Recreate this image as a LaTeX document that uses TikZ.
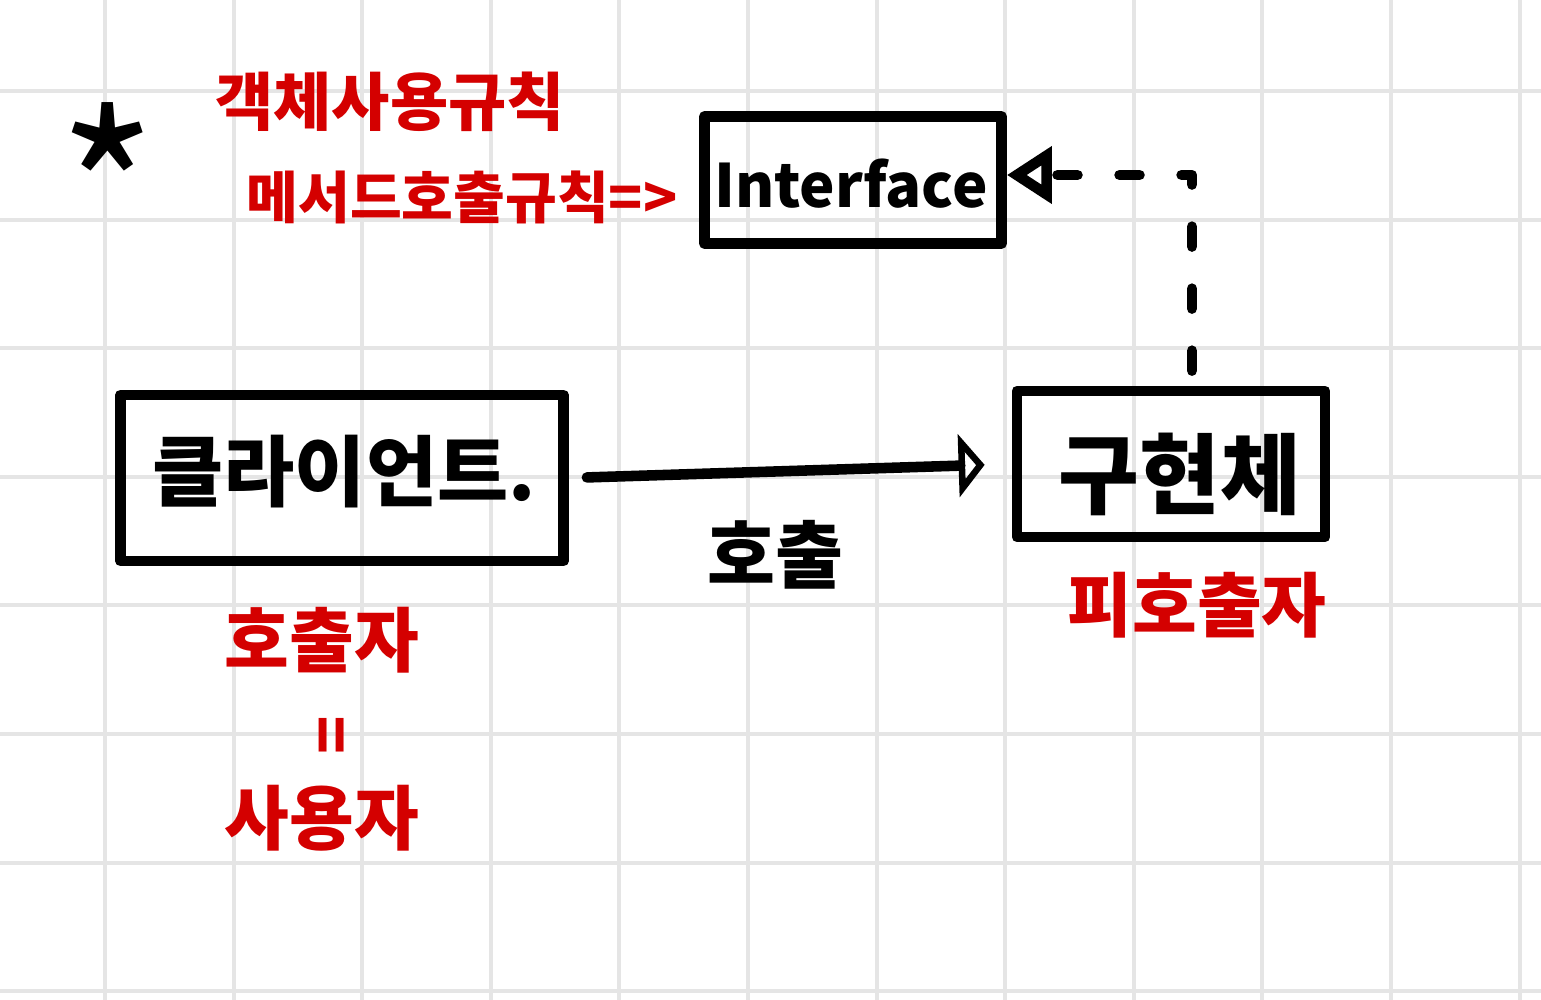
\documentclass[tikz,border=0pt]{standalone}
\usepackage{fontspec}
\setmainfont{Noto Sans CJK KR}
\usetikzlibrary{arrows.meta,calc}
\definecolor{gridgray}{HTML}{E5E5E5}
\definecolor{pen}{HTML}{D40000}
\tikzset{
  gridline/.style={draw=gridgray,line width=1.15pt},
  sketchbox/.style={draw=black,line width=3pt,line join=round,rectangle,inner sep=0pt},
  inktext/.style={text=black,inner sep=1pt,font=\bfseries\fontsize{#1}{#1}\selectfont},
  redtext/.style={text=pen,inner sep=1pt,font=\bfseries\fontsize{#1}{#1}\selectfont},
  callline/.style={draw=black,line width=3pt,line cap=round,line join=round,
     -{Triangle[open,length=0.26cm,width=0.62cm,line width=3pt]}},
  implline/.style={draw=black,line width=3pt,line cap=round,line join=round,
     dash pattern=on 0.2cm off 0.42cm,
     -{Triangle[open,length=0.45cm,width=0.55cm,line width=3pt]}}
}
\begin{document}
\begin{tikzpicture}[x=0.01cm,y=-0.01cm]
\fill[white] (0,0) rectangle (1541,1000);
\useasboundingbox (0,0) rectangle (1541,1000);
% grid
\foreach \gx in {105,233.6,362.2,490.8,619.4,748,876.6,1005.2,1133.8,1262.4,1391,1519.6}
  \draw[gridline] (\gx,0) -- (\gx,1000);
\foreach \gy in {91,219.6,348.2,476.8,605.4,734,862.6,991.2}
  \draw[gridline] (0,\gy) -- (1541,\gy);

% boxes
\node[sketchbox,minimum width=2.97cm,minimum height=1.27cm] (iface) at (853,180) {};
\node[inktext=17] (ifacetxt) at (851,184) {Interface};
\node[sketchbox,minimum width=4.43cm,minimum height=1.66cm] (client) at (342,478) {};
\node[inktext=22] (clienttxt) at (344,472) {클라이언트.};
\node[sketchbox,minimum width=3.08cm,minimum height=1.46cm] (impl) at (1171,464) {};
\node[inktext=25] (impltxt) at (1180,474) {구현체};

% connectors
\path[callline,shorten <=0.18cm,shorten >=0.27cm] (client.east) -- (impl.west);
\coordinate (bend) at (1192,175);
\path[implline,shorten <=0.15cm] (impl.north -| bend) -- (bend) -- (iface.east |- bend);

% labels
\node[inktext=21] (calltxt) at (775,555) {호출};
\node[text=black,inner sep=1pt,font=\fontsize{60}{60}\selectfont] (star) at (108,187) {*};
\node[redtext=18] (rule1) at (390,102) {객체사용규칙};
\node[redtext=16] (rule2) at (462,197) {메서드호출규칙=>};
\node[redtext=20] (caller) at (322,640) {호출자};
\node[redtext=18,rotate=90] (eqsign) at (337,735) {=};
\node[redtext=20] (user) at (322,818) {사용자};
\node[redtext=20] (callee) at (1197,605) {피호출자};
\end{tikzpicture}
\end{document}
